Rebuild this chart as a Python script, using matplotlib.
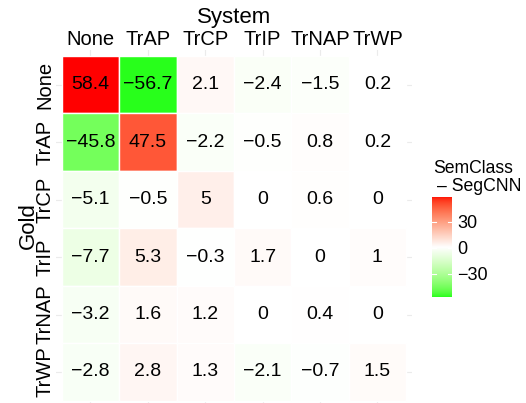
import numpy as np
import matplotlib
matplotlib.use("Agg")
import matplotlib.pyplot as plt
from matplotlib.colors import ListedColormap, Normalize
from matplotlib.patches import Rectangle

plt.rcParams['font.family'] = ['Liberation Sans', 'DejaVu Sans']

# ---------------- data ----------------
system_labels = ["None", "TrAP", "TrCP", "TrIP", "TrNAP", "TrWP"]
gold_labels = ["None", "TrAP", "TrCP", "TrIP", "TrNAP", "TrWP"]
row_none = [58.4, -56.7, 2.1, -2.4, -1.5, 0.2]
row_trap = [-45.8, 47.5, -2.2, -0.5, 0.8, 0.2]
row_trcp = [-5.1, -0.5, 5, 0, 0.6, 0]
row_trip = [-7.7, 5.3, -0.3, 1.7, 0, 1]
row_trnap = [-3.2, 1.6, 1.2, 0, 0.4, 0]
row_trwp = [-2.8, 2.8, 1.3, -2.1, -0.7, 1.5]
legend_ticks = [-30, 0, 30]
legend_title = "SemClass"
legend_title2 = "\u2013 SegCNN"

values = np.array([row_none, row_trap, row_trcp, row_trip, row_trnap, row_trwp])

# ---------------- Lab colour ramp (like ggplot gradient2) ----------------
def srgb_to_lab(rgb):
    rgb = np.asarray(rgb, float)
    lin = np.where(rgb <= 0.04045, rgb / 12.92, ((rgb + 0.055) / 1.055) ** 2.4)
    M = np.array([[0.4124564, 0.3575761, 0.1804375],
                  [0.2126729, 0.7151522, 0.0721750],
                  [0.0193339, 0.1191920, 0.9503041]])
    xyz = lin @ M.T
    wp = np.array([0.95047, 1.0, 1.08883])
    t = xyz / wp
    d = 6 / 29
    f = np.where(t > d ** 3, np.cbrt(t), t / (3 * d * d) + 4 / 29)
    L = 116 * f[..., 1] - 16
    a = 500 * (f[..., 0] - f[..., 1])
    b = 200 * (f[..., 1] - f[..., 2])
    return np.stack([L, a, b], -1)

def lab_to_srgb(lab):
    lab = np.asarray(lab, float)
    fy_ = (lab[..., 0] + 16) / 116
    fx_ = fy_ + lab[..., 1] / 500
    fz_ = fy_ - lab[..., 2] / 200
    d = 6 / 29
    def finv(f):
        return np.where(f > d, f ** 3, 3 * d * d * (f - 4 / 29))
    wp = np.array([0.95047, 1.0, 1.08883])
    xyz = np.stack([finv(fx_), finv(fy_), finv(fz_)], -1) * wp
    Minv = np.array([[3.2404542, -1.5371385, -0.4985314],
                     [-0.9692660, 1.8760108, 0.0415560],
                     [0.0556434, -0.2040259, 1.0572252]])
    lin = xyz @ Minv.T
    lin = np.clip(lin, 0, 1)
    rgb = np.where(lin <= 0.0031308, 12.92 * lin, 1.055 * lin ** (1 / 2.4) - 0.055)
    return np.clip(rgb, 0, 1)

lab_g = srgb_to_lab([0, 1, 0])
lab_w = srgb_to_lab([1, 1, 1])
lab_r = srgb_to_lab([1, 0, 0])
n = 256
t = np.linspace(0, 1, n)[:, None]
low = lab_to_srgb(lab_g + (lab_w - lab_g) * t)
high = lab_to_srgb(lab_w + (lab_r - lab_w) * t)
cmap = ListedColormap(np.vstack([low, high]))

vmax = np.abs(values).max()
norm = Normalize(-vmax, vmax)

# ---------------- figure ----------------
W, H = 526, 403
fig = plt.figure(figsize=(W / 100, H / 100), dpi=100)

def fx(px):
    return px / W

def fy(py):
    return 1 - py / H

cell_w = 57.4
cell_h = 57.45
ax_left = 61.7 - 0.1 * cell_w
ax_top = 56.0 - 0.1 * cell_h
ax_w = 6.2 * cell_w
ax_h = 6.2 * cell_h
ax = fig.add_axes([fx(ax_left), fy(ax_top + ax_h), ax_w / W, ax_h / H])
ax.set_xlim(-0.6, 5.6)
ax.set_ylim(5.6, -0.6)

for k in range(6):
    ax.axvline(k, color='#EBEBEB', lw=0.8, zorder=0)
    ax.axhline(k, color='#EBEBEB', lw=0.8, zorder=0)

for i in range(values.shape[0]):
    for j in range(values.shape[1]):
        v = values[i, j]
        ax.add_patch(Rectangle((j - 0.5, i - 0.5), 1, 1,
                               facecolor=cmap(norm(v)), edgecolor='white',
                               lw=1.0, zorder=2))
        s = f"{v:g}".replace("-", "\u2212")
        ax.text(j, i, s, ha='center', va='center', fontsize=14,
                color='black', zorder=3)

for sp in ax.spines.values():
    sp.set_visible(False)
ax.xaxis.tick_top()
ax.set_xticks(range(6))
ax.set_xticklabels(system_labels, fontsize=14.5, color='black')
ax.set_yticks(range(6))
ax.set_yticklabels(gold_labels, fontsize=14.5, color='black',
                   rotation=90, va='center')
ax.tick_params(length=0, pad=0.8)

fig.text(fx(234), fy(23.3), "System", ha='center', va='baseline', fontsize=16)
fig.text(fx(28), fy(226), "Gold", ha='center', va='center', rotation=90,
         fontsize=16)

# ---------------- colourbar ----------------
dmin, dmax = values.min(), values.max()
cb_l, cb_r, cb_t, cb_b = 431.7, 451.7, 196.7, 297.3
cax = fig.add_axes([fx(cb_l), fy(cb_b), (cb_r - cb_l) / W, (cb_b - cb_t) / H])
grad = np.linspace(dmax, dmin, 300)[:, None]
cax.imshow(grad, aspect='auto', cmap=cmap, norm=norm,
           extent=[0, 1, dmin, dmax], interpolation='bilinear')
cax.set_xlim(0, 1)
cax.set_ylim(dmin, dmax)
for tv in legend_ticks:
    cax.plot([0, 0.2], [tv, tv], color='white', lw=0.8)
    cax.plot([0.8, 1], [tv, tv], color='white', lw=0.8)
for sp in cax.spines.values():
    sp.set_visible(False)
cax.set_xticks([])
cax.yaxis.tick_right()
cax.set_yticks(legend_ticks)
cax.set_yticklabels([f"{v:g}".replace("-", "\u2212") for v in legend_ticks],
                    fontsize=13)
cax.tick_params(length=0, pad=4)

fig.text(fx(433.3), fy(172.7), legend_title, ha='left', va='baseline', fontsize=12.7)
fig.text(fx(437), fy(190.7), legend_title2, ha='left', va='baseline', fontsize=12.7)

fig.savefig("out.png", dpi=100)
